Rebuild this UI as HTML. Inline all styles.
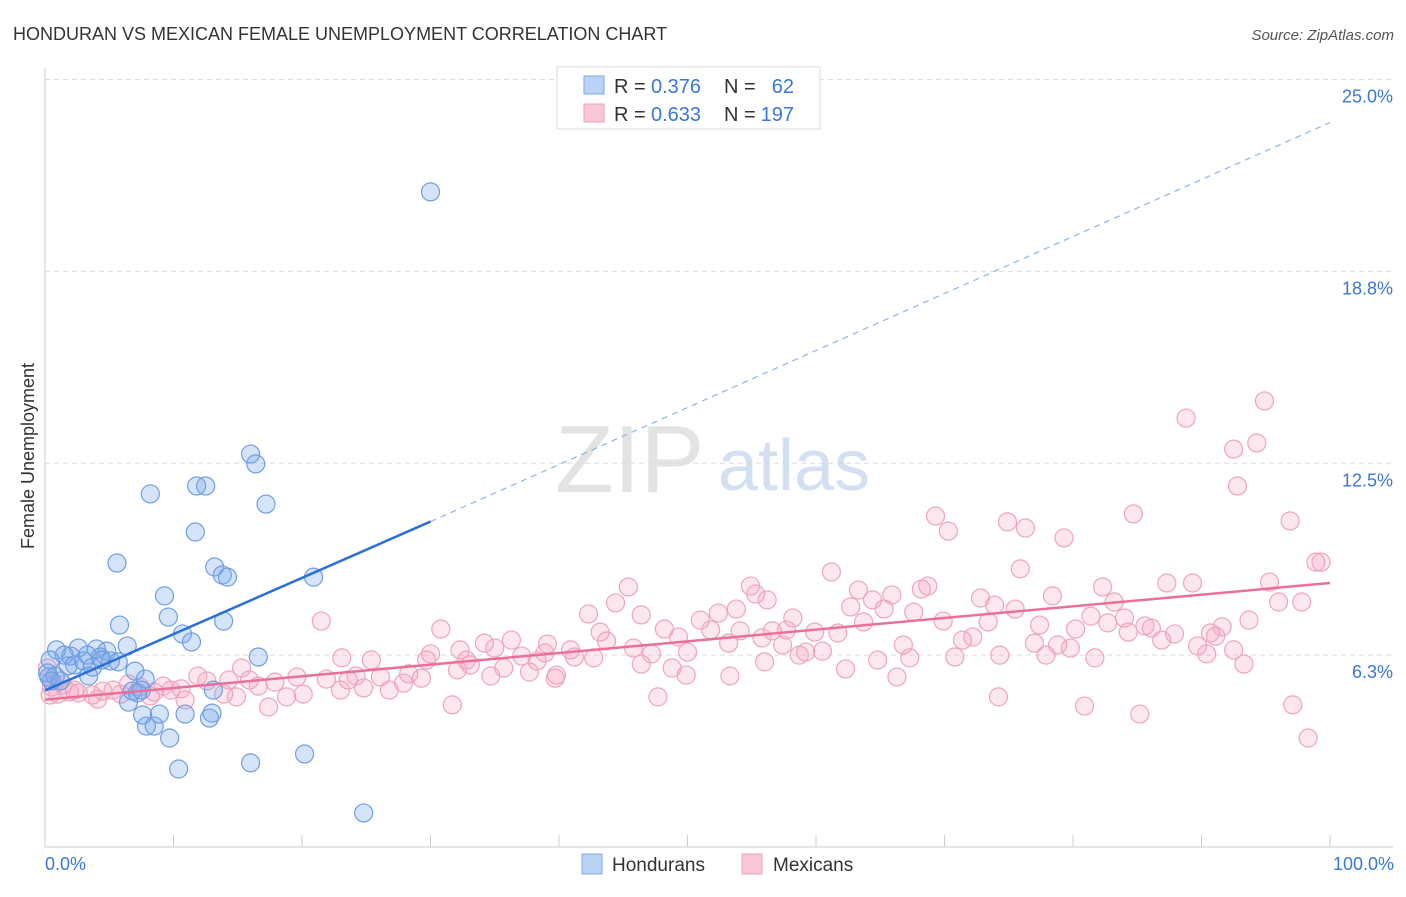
<!DOCTYPE html>
<html><head><meta charset="utf-8">
<style>
body{margin:0;background:#fff;font-family:"Liberation Sans",sans-serif;}
svg text{font-family:"Liberation Sans",sans-serif;}
</style></head>
<body>
<svg id="chart" width="1406" height="892" xmlns="http://www.w3.org/2000/svg">
<text x="13" y="40" font-size="18" fill="#333">HONDURAN VS MEXICAN FEMALE UNEMPLOYMENT CORRELATION CHART</text>
<text x="1394" y="40" font-size="15" fill="#555" font-style="italic" text-anchor="end">Source: ZipAtlas.com</text>
<g id="grid"></g>
<text x="555" y="492" font-size="96" fill="#ddd" font-family="Liberation Serif" opacity="0.8">ZIP</text>
<text x="718" y="490" font-size="72" fill="#c8d9f0" opacity="0.8">atlas</text>
<g id="pts"></g>
<g id="lines"></g>
<text transform="translate(34,456) rotate(-90)" font-size="18" fill="#333" text-anchor="middle">Female Unemployment</text>
<g>
<rect x="557" y="67" width="263" height="62" fill="#fff" stroke="#ddd"/>
<rect x="584" y="76" width="20" height="18" fill="#b9d2f5" stroke="#7aa6e6"/>
<rect x="584" y="104" width="20" height="18" fill="#f9c7d5" stroke="#eea0b8"/>
<text x="614" y="93" font-size="20" fill="#333">R =</text>
<text x="651" y="93" font-size="20" fill="#3b78d4">0.376</text>
<text x="724" y="93" font-size="20" fill="#333">N =</text>
<text x="794" y="93" font-size="20" fill="#3b78d4" text-anchor="end">62</text>
<text x="614" y="121" font-size="20" fill="#333">R =</text>
<text x="651" y="121" font-size="20" fill="#3b78d4">0.633</text>
<text x="724" y="121" font-size="20" fill="#333">N =</text>
<text x="794" y="121" font-size="20" fill="#3b78d4" text-anchor="end">197</text>
</g>
<g>
<rect x="582" y="854" width="20" height="20" fill="#b9d2f5" stroke="#7aa6e6"/>
<text x="612" y="871" font-size="19" fill="#333">Hondurans</text>
<rect x="742" y="854" width="20" height="20" fill="#f9c7d5" stroke="#eea0b8"/>
<text x="773" y="871" font-size="19" fill="#333">Mexicans</text>
</g>
<text x="45" y="870" font-size="18" fill="#3b78d4">0.0%</text>
<text x="1394" y="870" font-size="18" fill="#3b78d4" text-anchor="end">100.0%</text>
</svg>
<script>
const yTicks=[6.3,12.5,18.8,25.0];
const xTicks=[0,10,20,30,40,50,60,70,80,90,100];
const blueTrend=[[0,5.1],[30,10.6]];
const blueDash=[[30,10.6],[100,23.6]];
const pinkTrend=[[0,4.8],[100,8.6]];
const hondPx=[[430,192],[250,454],[256,464],[151,494],[197,486],[205,486],[266,504],[195,532],[117,563],[215,567],[222,575],[227,577],[313,577],[165,596],[169,617],[119,625],[224,621],[182,634],[191,642],[127,646],[57,650],[79,648],[97,649],[107,651],[64,655],[71,656],[88,655],[100,657],[110,661],[118,662],[258,657],[50,660],[75,665],[83,661],[93,667],[135,671],[89,676],[55,676],[145,679],[49,677],[61,681],[133,691],[213,690],[129,702],[138,693],[143,715],[212,713],[185,714],[160,714],[146,726],[154,726],[210,718],[170,738],[305,754],[251,763],[179,769],[364,813],[47,673],[52,681],[68,666],[102,660],[141,690]];
const mexPx=[[1265,401],[1186,418],[1257,443],[1233,449],[1238,486],[936,516],[1133,514],[1007,522],[1290,521],[948,531],[1026,528],[1064,538],[1316,562],[1321,562],[1020,569],[832,572],[628,587],[1167,583],[1193,583],[1270,582],[922,589],[928,586],[750,586],[858,590],[892,595],[1102,587],[616,603],[589,614],[718,613],[736,609],[767,600],[756,594],[641,615],[851,607],[873,600],[884,609],[914,612],[980,598],[995,605],[1015,609],[1052,596],[1114,602],[1278,602],[1302,602],[1249,620],[1091,616],[1124,618],[1145,626],[1108,623],[321,621],[441,629],[793,618],[700,620],[664,629],[710,630],[740,631],[600,632],[815,632],[838,633],[864,622],[772,631],[786,630],[943,621],[988,622],[1040,625],[1076,629],[1152,628],[1174,634],[1211,633],[1222,627],[1215,636],[1162,640],[962,640],[973,637],[1034,643],[1058,645],[1198,646],[1128,632],[1070,648],[904,645],[728,643],[678,637],[606,641],[547,644],[512,640],[495,648],[485,643],[460,650],[466,660],[431,654],[427,660],[372,660],[342,658],[522,656],[545,653],[570,650],[575,657],[594,658],[634,648],[651,654],[688,652],[799,655],[806,652],[823,651],[782,645],[762,638],[1000,655],[1046,655],[1095,658],[1206,654],[1244,664],[1233,650],[955,657],[878,660],[910,658],[764,662],[846,669],[686,675],[730,676],[672,668],[641,664],[557,675],[530,672],[504,668],[491,676],[470,665],[409,674],[381,677],[356,676],[348,680],[327,679],[297,677],[275,682],[242,668],[258,686],[249,680],[229,680],[207,681],[198,676],[224,694],[181,689],[171,690],[163,686],[154,692],[140,687],[128,684],[113,690],[103,691],[92,695],[79,693],[70,692],[58,694],[50,695],[52,687],[48,668],[63,685],[75,690],[98,699],[121,694],[150,696],[185,700],[236,697],[268,707],[287,697],[303,694],[340,690],[364,688],[390,690],[404,683],[421,678],[555,678],[457,670],[537,661],[452,705],[658,697],[897,677],[999,697],[1085,706],[1140,714],[1293,705],[1308,738]];
const toData=p=>[+(((p[0]-45)/12.85).toFixed(1)),+(((847-p[1])/30.7).toFixed(2))];
const hondurans=hondPx.map(toData);
const mexicans=mexPx.map(toData);

const NS='http://www.w3.org/2000/svg';
const X=v=>45+v*12.85, Y=v=>847-v*30.7;
function mk(tag,attrs,parent){const e=document.createElementNS(NS,tag);for(const k in attrs)e.setAttribute(k,attrs[k]);parent.appendChild(e);return e;}
const grid=document.getElementById('grid');
yTicks.forEach(t=>{
  const yy=Y(t===25?25:t===18.8?18.75:t===12.5?12.5:6.25);
  const l=mk('line',{x1:45,x2:1393,y1:yy,y2:yy,stroke:'#ddd','stroke-dasharray':'5,4'},grid);
  
  
  const tx=mk('text',{x:1393,y:yy+23,'font-size':18,fill:'#3b78d4','text-anchor':'end'},grid);
  tx.textContent=t.toFixed(1)+'%';
  
  
});
const ax=mk('line',{x1:45,x2:1393,y1:847,y2:847,stroke:'#ccc'},grid);


const ay=mk('line',{x1:45,x2:45,y1:68,y2:847,stroke:'#ccc'},grid);


xTicks.forEach(t=>{
  const l=mk('line',{x1:X(t),x2:X(t),y1:835,y2:847,stroke:'#ccc'},grid);
  
  
});
const pts=document.getElementById('pts');
mexicans.forEach(d=>{
  const c=mk('circle',{cx:X(d[0]),cy:Y(d[1]),r:9,fill:'rgba(244,160,186,0.25)',stroke:'#eda5bd','stroke-width':1.2},pts);
  
  
});
hondurans.forEach(d=>{
  const c=mk('circle',{cx:X(d[0]),cy:Y(d[1]),r:9,fill:'rgba(120,165,235,0.3)',stroke:'#6e9ee0','stroke-width':1.2},pts);
  
  
});
const lines=document.getElementById('lines');
const ln=(a,attrs,name)=>{const e=mk('line',Object.assign({x1:X(a[0][0]),y1:Y(a[0][1]),x2:X(a[1][0]),y2:Y(a[1][1])},attrs),lines);};
ln(blueDash,{stroke:'#8fb3e8','stroke-width':1.2,'stroke-dasharray':'6,5'},'honduran-trend-extension');
ln(pinkTrend,{stroke:'#e8709a','stroke-width':2.5},'mexican-trend-line');
ln(blueTrend,{stroke:'#2a70d8','stroke-width':2.5},'honduran-trend-line');
</script>
</body></html>
